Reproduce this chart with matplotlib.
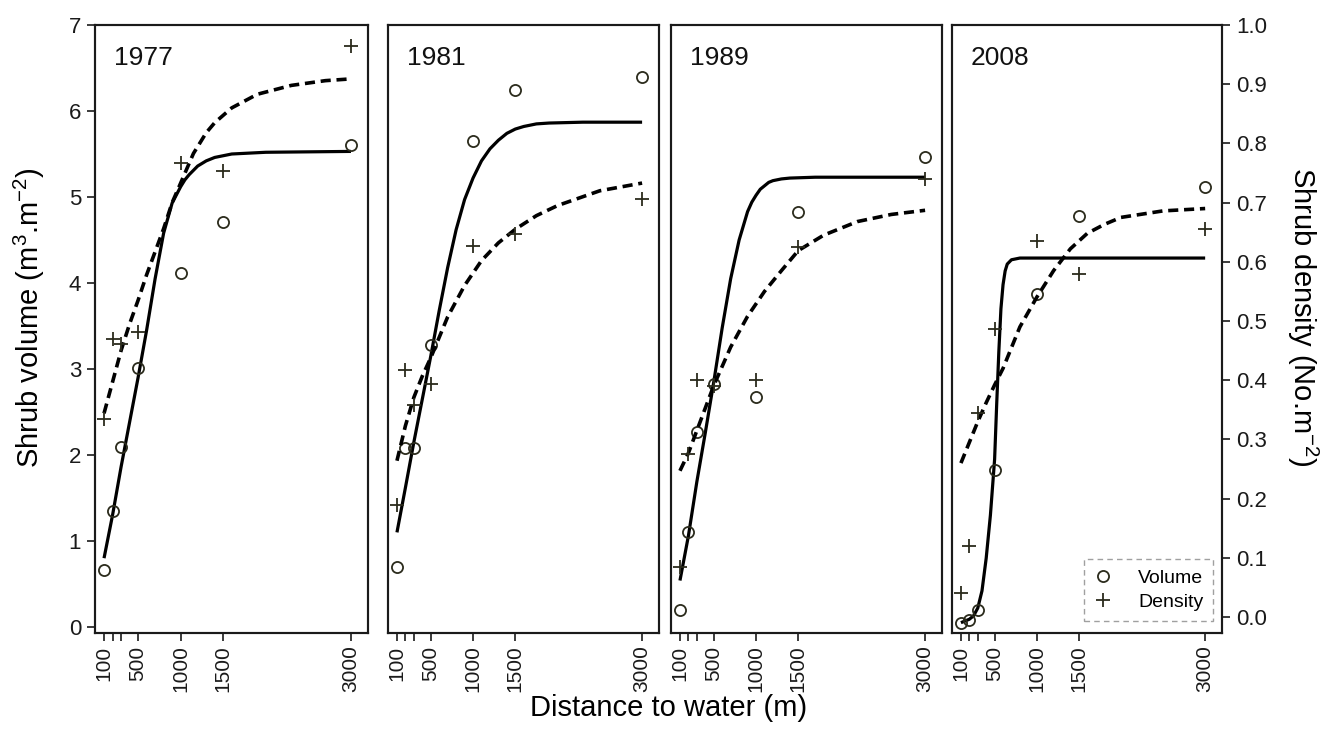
import matplotlib
matplotlib.use("Agg")
import matplotlib.pyplot as plt
from matplotlib import font_manager
from matplotlib.lines import Line2D

# ---- data ----
years = ["1977", "1981", "1989", "2008"]
dist = [100, 200, 300, 500, 1000, 1500, 3000]
xtick_labels = ["100", "", "", "500", "1000", "1500", "3000"]

vol_1977 = [0.66, 1.35, 2.09, 3.01, 4.12, 4.71, 5.60]
dens_1977 = [0.334, 0.470, 0.461, 0.481, 0.767, 0.753, 0.965]
vol_1981 = [0.70, 2.08, 2.08, 3.28, 5.65, 6.24, 6.40]
dens_1981 = [0.190, 0.417, 0.358, 0.393, 0.626, 0.647, 0.706]
vol_1989 = [0.20, 1.10, 2.27, 2.82, 2.68, 4.82, 5.47]
dens_1989 = [0.085, 0.275, 0.400, 0.390, 0.400, 0.625, 0.740]
vol_2008 = [0.05, 0.08, 0.20, 1.82, 3.87, 4.78, 5.12]
dens_2008 = [0.040, 0.120, 0.345, 0.486, 0.635, 0.580, 0.655]

# fitted curves (traced)
fv_x_1977 = [100, 200, 300, 400, 500, 600, 700, 800, 900, 1000, 1050, 1100, 1200, 1300, 1400, 1600, 2000, 3000]
fv_1977 = [0.80, 1.30, 1.86, 2.38, 2.90, 3.45, 4.05, 4.58, 4.93, 5.12, 5.20, 5.26, 5.36, 5.42, 5.46, 5.50, 5.52, 5.53]
fd_x_1977 = [100, 200, 300, 400, 500, 600, 700, 800, 900, 1000, 1150, 1300, 1400, 1600, 1900, 2300, 2700, 3000]
fd_1977 = [0.344, 0.397, 0.450, 0.495, 0.535, 0.578, 0.617, 0.656, 0.700, 0.733, 0.783, 0.818, 0.835, 0.860, 0.883, 0.898, 0.906, 0.909]

fv_x_1981 = [100, 200, 300, 400, 500, 600, 700, 800, 900, 1000, 1100, 1200, 1300, 1400, 1500, 1600, 1750, 1900, 2300, 3000]
fv_1981 = [1.10, 1.62, 2.15, 2.65, 3.15, 3.68, 4.18, 4.62, 4.97, 5.22, 5.42, 5.56, 5.66, 5.74, 5.79, 5.82, 5.85, 5.86, 5.87, 5.87]
fd_x_1981 = [100, 200, 300, 400, 500, 700, 900, 1100, 1300, 1500, 1750, 2000, 2500, 3000]
fd_1981 = [0.264, 0.323, 0.371, 0.407, 0.438, 0.507, 0.560, 0.602, 0.632, 0.655, 0.678, 0.695, 0.720, 0.733]

fv_x_1989 = [100, 200, 300, 400, 500, 600, 700, 800, 900, 950, 1000, 1050, 1100, 1150, 1200, 1300, 1400, 1700, 3000]
fv_1989 = [0.54, 1.06, 1.69, 2.26, 2.85, 3.48, 4.05, 4.50, 4.83, 4.94, 5.02, 5.09, 5.13, 5.17, 5.19, 5.21, 5.22, 5.23, 5.23]
fd_x_1989 = [100, 200, 300, 400, 500, 700, 900, 1100, 1300, 1500, 1800, 2200, 2600, 3000]
fd_1989 = [0.247, 0.277, 0.315, 0.353, 0.391, 0.456, 0.508, 0.550, 0.585, 0.619, 0.645, 0.668, 0.680, 0.687]

fv_x_2008 = [100, 200, 250, 300, 350, 400, 450, 500, 525, 550, 575, 600, 625, 650, 700, 800, 3000]
fv_2008 = [0.05, 0.09, 0.13, 0.22, 0.42, 0.80, 1.30, 1.95, 2.60, 3.20, 3.70, 3.98, 4.14, 4.22, 4.27, 4.29, 4.29]
fd_x_2008 = [100, 200, 300, 400, 500, 600, 700, 800, 900, 1000, 1200, 1400, 1600, 1800, 2000, 2500, 3000]
fd_2008 = [0.260, 0.295, 0.330, 0.362, 0.392, 0.420, 0.455, 0.490, 0.515, 0.540, 0.585, 0.622, 0.648, 0.663, 0.675, 0.686, 0.690]

vols = [vol_1977, vol_1981, vol_1989, vol_2008]
denss = [dens_1977, dens_1981, dens_1989, dens_2008]
fit_vx = [fv_x_1977, fv_x_1981, fv_x_1989, fv_x_2008]
fit_v = [fv_1977, fv_1981, fv_1989, fv_2008]
fit_dx = [fd_x_1977, fd_x_1981, fd_x_1989, fd_x_2008]
fit_d = [fd_1977, fd_1981, fd_1989, fd_2008]

# ---- fonts ----
installed = {f.name for f in font_manager.fontManager.ttflist}
has_narrow = "Liberation Sans Narrow" in installed
narrow = "Liberation Sans Narrow" if has_narrow else "Liberation Sans"
ytick_fs = 17 if has_narrow else 16
xtick_fs = 16 if has_narrow else 15
plt.rcParams["font.family"] = ["Liberation Sans", "DejaVu Sans"]
plt.rcParams["mathtext.fontset"] = "custom"
plt.rcParams["mathtext.rm"] = "Liberation Sans"
plt.rcParams["mathtext.it"] = "Liberation Sans:italic"

W, H = 1331, 733
fig = plt.figure(figsize=(W / 100, H / 100), dpi=100)

# panel boxes in pixels (left, right)
boxes = [(95, 368), (388, 659), (671, 942), (952, 1222)]
top_px, bot_px = 25, 633

mk_col = "#2b2b1c"
frame_col = "#1a1a1a"

for i, (l, r) in enumerate(boxes):
    ax = fig.add_axes([l / W, 1 - bot_px / H, (r - l) / W, (bot_px - top_px) / H])
    axd = ax.twinx()

    ax.plot(fit_vx[i], fit_v[i], color="black", lw=2.3, solid_capstyle="butt",
            solid_joinstyle="round")
    axd.plot(fit_dx[i], fit_d[i], color="black", lw=2.6, linestyle=(0, (2.8, 1.6)),
             dash_capstyle="butt")
    ax.plot(dist, vols[i], "o", ms=8, mfc="none", mec=mk_col, mew=1.3)
    axd.plot(dist, denss[i], "+", ms=9.5, mec=mk_col, mew=1.3)

    ax.set_xlim(-6, 3200)
    ax.set_ylim(-0.07, 7)
    axd.set_ylim(-0.027, 1.0)

    ax.set_xticks(dist)
    ax.set_xticklabels(xtick_labels, rotation=90, family=[narrow, "DejaVu Sans"], fontsize=xtick_fs)
    ax.tick_params(axis="x", direction="out", length=6, width=1.2, pad=3, colors=frame_col)

    ax.set_yticks(range(8))
    ax.tick_params(axis="y", direction="out", length=6, width=1.2, pad=4, colors=frame_col,
                   labelsize=ytick_fs)
    axd.set_yticks([k / 10 for k in range(11)])
    axd.set_yticklabels([f"{k / 10:.1f}" for k in range(11)], family=[narrow, "DejaVu Sans"])
    axd.tick_params(axis="y", direction="out", length=6, width=1.2, pad=4, colors=frame_col,
                    labelsize=ytick_fs)
    for lab in ax.get_yticklabels():
        lab.set_family([narrow, "DejaVu Sans"])

    if i > 0:
        ax.tick_params(axis="y", left=False, labelleft=False)
    if i < 3:
        axd.tick_params(axis="y", right=False, labelright=False)

    for a in (ax, axd):
        for sp in a.spines.values():
            sp.set_linewidth(1.5)
            sp.set_color(frame_col)

    ax.text(0.07, 0.945, years[i], transform=ax.transAxes, fontsize=19,
            ha="left", va="center", color="#111111")

    if i == 3:
        handles = [
            Line2D([], [], linestyle="none", marker="o", ms=8, mfc="none", mec=mk_col, mew=1.3),
            Line2D([], [], linestyle="none", marker="+", ms=9.5, mec=mk_col, mew=1.3),
        ]
        leg = axd.legend(handles, ["Volume", "Density"], loc="lower right",
                         bbox_to_anchor=(0.967, 0.02), borderaxespad=0, fancybox=False,
                         framealpha=1, handlelength=1.0, handletextpad=1.3,
                         labelspacing=0.35, borderpad=0.5,
                         prop={"family": [narrow, "DejaVu Sans"], "size": 14})
        fr = leg.get_frame()
        fr.set_edgecolor("#a0a0a0")
        fr.set_linestyle((0, (4, 3)))
        fr.set_linewidth(1.0)

fig.text(0.502, 0.034, "Distance to water (m)", ha="center", va="center", fontsize=21)
fig.text(0.022, 0.567, "Shrub volume (m$^{3}$.m$^{-2}$)", ha="center", va="center",
         rotation=90, fontsize=21)
fig.text(0.979, 0.567, "Shrub density (No.m$^{-2}$)", ha="center", va="center",
         rotation=270, fontsize=21)

fig.savefig("out.png", dpi=100)
